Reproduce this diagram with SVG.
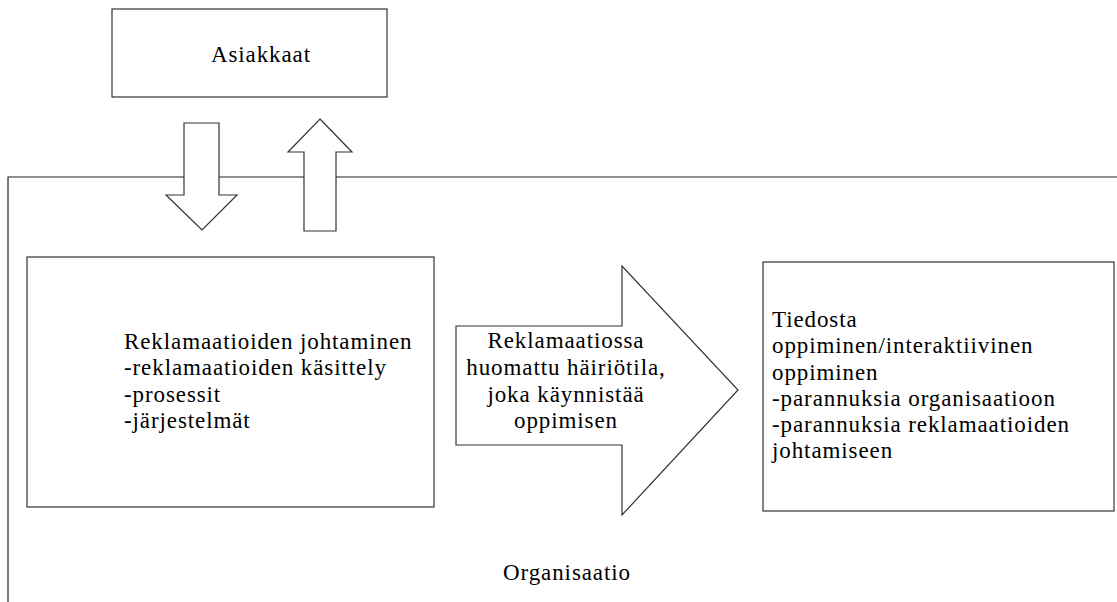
<svg xmlns="http://www.w3.org/2000/svg" width="1117" height="602" viewBox="0 0 1117 602">
  <style>
    .box { fill: #ffffff; stroke: #333333; stroke-width: 1.2; }
    .frame { fill: none; stroke: #222222; stroke-width: 1.2; }
    .arrow { fill: #ffffff; stroke: #333333; stroke-width: 1.2; stroke-linejoin: miter; }
    .lbl { font-family: "Liberation Serif", "Times New Roman", serif; font-size: 23px; fill: #000000; letter-spacing: 0.9px; }
    .mid { text-anchor: middle; }
  </style>
  <rect width="1117" height="602" fill="#ffffff"/>

  <!-- organisation boundary (open to the right and bottom) -->
  <g id="organisaatio">
    <path class="frame" d="M8,602 V177 H1117"/>
    <text class="lbl mid" x="567" y="580">Organisaatio</text>
  </g>

  <g id="asiakkaat">
    <rect class="box" x="112" y="9" width="275" height="88"/>
    <text class="lbl mid" x="261" y="62">Asiakkaat</text>
  </g>

  <g id="connectors">
    <!-- customers to organisation -->
    <path class="arrow" d="M184,123 H219 V195 H237 L202,230 L166,195 H184 Z"/>
    <!-- organisation to customers -->
    <path class="arrow" d="M320,119 L352,152 H336 V231 H304 V152 H288 Z"/>
  </g>

  <g id="johtaminen">
    <rect class="box" x="27" y="257" width="407" height="250"/>
    <text class="lbl" x="124" y="349">Reklamaatioiden johtaminen</text>
    <text class="lbl" x="124" y="375">-reklamaatioiden käsittely</text>
    <text class="lbl" x="124" y="402">-prosessit</text>
    <text class="lbl" x="124" y="428">-järjestelmät</text>
  </g>

  <g id="hairiotila">
    <path class="arrow" d="M456,326 H622 V266 L738,390 L622,515 V445 H456 Z"/>
    <text class="lbl mid" x="566" y="348">Reklamaatiossa</text>
    <text class="lbl mid" x="566" y="375">huomattu häiriötila,</text>
    <text class="lbl mid" x="566" y="402">joka käynnistää</text>
    <text class="lbl mid" x="566" y="428">oppimisen</text>
  </g>

  <g id="oppiminen">
    <rect class="box" x="763" y="262" width="351" height="249"/>
    <text class="lbl" x="772" y="327">Tiedosta</text>
    <text class="lbl" x="772" y="353">oppiminen/interaktiivinen</text>
    <text class="lbl" x="772" y="380">oppiminen</text>
    <text class="lbl" x="772" y="406">-parannuksia organisaatioon</text>
    <text class="lbl" x="772" y="432">-parannuksia reklamaatioiden</text>
    <text class="lbl" x="772" y="458">johtamiseen</text>
  </g>
</svg>
